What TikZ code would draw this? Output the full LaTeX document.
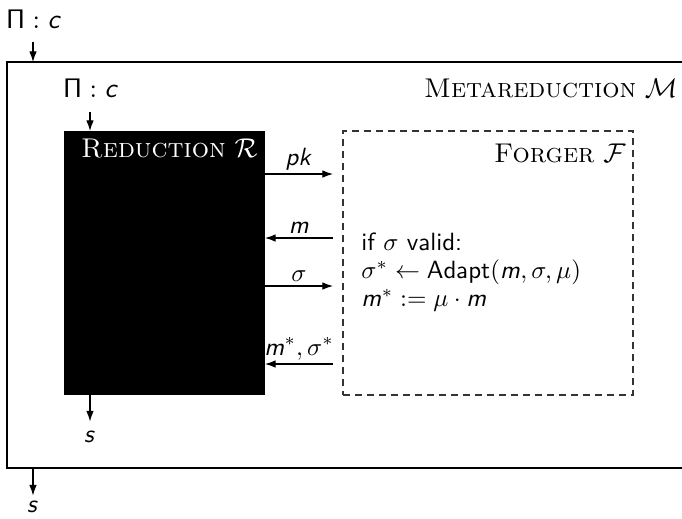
\RequirePackage{fix-cm}
\documentclass[tikz,border=0pt]{standalone}
\usetikzlibrary{arrows.meta,fit}
% slanted sans letters for variables
\DeclareMathAlphabet{\mathsfit}{OT1}{cmss}{m}{sl}
\newcommand{\vr}[1]{\ensuremath{\mathsfit{#1}}}
\newcommand{\PiC}{$\mathsf{\Pi}\mathrel{\mathsf{:}}\mathsfit{c}$}
\begin{document}
\begin{tikzpicture}[x=0.4167pt, y=-0.4167pt, font=\sffamily\fontsize{10.4}{11.8}\selectfont,
  flow/.style={-{Latex[length=4.4pt,width=3.1pt]}, line width=0.45pt},
  boxtitle/.style={font=\rmfamily\fontsize{11.3}{13}\selectfont, anchor=east, inner sep=0pt},
  input/.style={font=\sffamily\fontsize{11.2}{13}\selectfont},
  lbl/.style={inner sep=1.5pt}]
\clip (0,0) rectangle (682,518);

% enclosing metareduction box (its right side lies off the page)
\node[fit={(7,62) (720,468)}, inner sep=0pt, draw, line width=0.45pt] (meta) {};
\node[boxtitle] (metatitle) at (678,88) {\textsc{Metareduction} $\mathcal{M}$};

% reduction (black box) and forger (dashed box)
\node[fit={(64,131) (265,395)}, inner sep=0pt, fill=black] (red) {};
\node[boxtitle, text=white] (redtitle) at (258,149) {\textsc{Reduction} $\mathcal{R}$};
\node[fit={(343,131) (633,395)}, inner sep=0pt, draw=black!80,
      dash pattern=on 3.1pt off 1.9pt, line width=0.45pt] (forg) {};
\node[boxtitle] (forgtitle) at (626,153) {\textsc{Forger} $\mathcal{F}$};

% forger's program
\node[anchor=west, align=left, inner sep=0pt] (prog) at (361,272)
  {if $\sigma$ valid:\\ $\sigma^*\leftarrow\mathsf{Adapt}(\mathsfit{m},\sigma,\mu)$\\ $\mathsfit{m}^*:=\mu\cdot\mathsfit{m}$};

% inputs
\node[input] (inO) at (34,19) {\PiC};
\coordinate (inOend) at (33,62);
\draw[flow] (inO.south -| inOend) ++(0,5) -- (inOend);
\node[input] (inR) at (91,88) {\PiC};
\coordinate (inRend) at (90,131);
\draw[flow] (inR.south -| inRend) ++(0,6) -- (inRend);

% outputs
\node (outR) at (90,437) {\vr{s}};
\coordinate (outRbeg) at (red.south -| outR);
\draw[flow] (outRbeg) -- ++(0,26);
\node (outO) at (33,507) {\vr{s}};
\coordinate (outObeg) at (meta.south -| outO);
\draw[flow] (outObeg) -- ++(0,27);

% messages between reduction and forger
\coordinate (r1) at (265,174); \coordinate (f1) at (333,174);
\coordinate (r2) at (265,238); \coordinate (f2) at (333,238);
\coordinate (r3) at (265,286); \coordinate (f3) at (333,286);
\coordinate (r4) at (265,364); \coordinate (f4) at (333,364);
\draw[flow] (r1) -- node[lbl, above] (lpk) {\vr{pk}} (f1);
\draw[flow] (f2) -- node[lbl, above] (lm) {\vr{m}} (r2);
\draw[flow] (r3) -- node[lbl, above] (ls) {$\sigma$} (f3);
\draw[flow] (f4) -- node[lbl, above] (lms) {$\mathsfit{m}^*,\sigma^*$} (r4);
\end{tikzpicture}
\end{document}
